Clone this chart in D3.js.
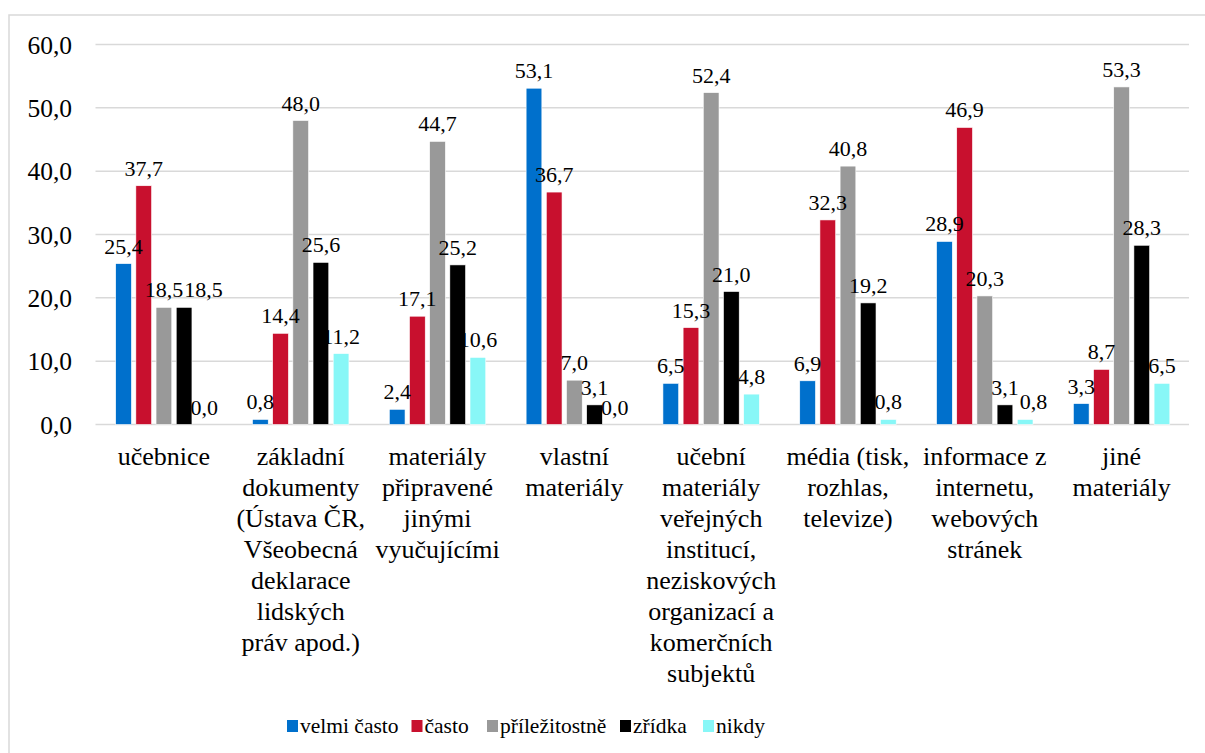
<!DOCTYPE html>
<html><head><meta charset="utf-8">
<script src="https://cdn.jsdelivr.net/npm/d3@7"></script>
<style>body{margin:0;background:#fff} svg text, svg tspan{font-family:"Liberation Serif" !important}</style>
</head><body>
<svg id="c" width="1205" height="753"></svg>
<script>
const categories = [
  ["učebnice"],
  ["základní","dokumenty","(Ústava ČR,","Všeobecná","deklarace","lidských","práv apod.)"],
  ["materiály","připravené","jinými","vyučujícími"],
  ["vlastní","materiály"],
  ["učební","materiály","veřejných","institucí,","neziskových","organizací a","komerčních","subjektů"],
  ["média (tisk,","rozhlas,","televize)"],
  ["informace z","internetu,","webových","stránek"],
  ["jiné","materiály"]
];
const seriesNames = ["velmi často","často","příležitostně","zřídka","nikdy"];
const seriesColors = ["#0070CC","#C8102E","#999999","#000000","#88F7F7"];
const velmiCasto   = [25.4, 0.8, 2.4, 53.1, 6.5, 6.9, 28.9, 3.3];
const casto        = [37.7, 14.4, 17.1, 36.7, 15.3, 32.3, 46.9, 8.7];
const prilezitostne= [18.5, 48.0, 44.7, 7.0, 52.4, 40.8, 20.3, 53.3];
const zridka       = [18.5, 25.6, 25.2, 3.1, 21.0, 19.2, 3.1, 28.3];
const nikdy        = [0.0, 11.2, 10.6, 0.0, 4.8, 0.8, 0.8, 6.5];
const yTicks = [0,10,20,30,40,50,60];

const series = [velmiCasto, casto, prilezitostne, zridka, nikdy];
const fmt = v => v.toFixed(1).replace(".", ",");
const FF = "Liberation Serif";
const setFont = (sel, size) => sel.attr("font-family",FF).style("font-family",FF,"important").attr("font-size",size);

const svg = d3.select("#c");
svg.append("rect").attr("x",9).attr("y",15).attr("width",1210).attr("height",760)
  .attr("fill","#fff").attr("stroke","#d9d9d9").attr("stroke-width",1.5);

const x0 = d3.scaleBand().domain(d3.range(categories.length)).range([95.5,1190]).paddingInner(0).paddingOuter(0);
const x1 = d3.scaleBand().domain(d3.range(series.length)).range([0,x0.bandwidth()]).paddingInner(0.22).paddingOuter(1.0);
const y = d3.scaleLinear().domain([0,60]).range([424.5,44.5]);

svg.append("g").selectAll("line").data(yTicks).join("line")
  .attr("x1",95.5).attr("x2",1189).attr("y1",d=>y(d)).attr("y2",d=>y(d))
  .attr("stroke","#d9d9d9").attr("stroke-width",1.5);

setFont(svg.append("g").selectAll("text").data(yTicks).join("text")
  .attr("x",72).attr("y",d=>y(d)).attr("dy","0.36em").attr("text-anchor","end"), 25.5)
  .text(d=>fmt(d));

const g = svg.append("g");
series.forEach((vals,si)=>{
  g.append("g").selectAll("rect").data(vals).join("rect")
    .attr("x",(d,i)=>x0(i)+x1(si)).attr("width",x1.bandwidth())
    .attr("y",d=>y(d)).attr("height",d=>y(0)-y(d))
    .attr("fill",seriesColors[si]).attr("stroke","#fff").attr("stroke-width",0.6);
});

// data labels with simple overlap avoidance
const lab = svg.append("g");
categories.forEach((c,i)=>{
  let prev = null;
  series.forEach((vals,si)=>{
    const v = vals[i];
    let cx = x0(i)+x1(si)+x1.bandwidth()/2;
    const by = y(v)-10;
    const t = setFont(lab.append("text").attr("text-anchor","middle"), 22)
      .attr("y",by).attr("x",cx).text(fmt(v));
    const w = t.node().getComputedTextLength();
    if (prev && Math.abs(prev.y-by) < 18) {
      const minCx = prev.cx + prev.w/2 + w/2 + 1;
      if (cx < minCx) { cx = minCx; t.attr("x",cx); }
    }
    prev = {cx, y:by, w};
  });
});

const cg = svg.append("g");
categories.forEach((lines,i)=>{
  const t = setFont(cg.append("text").attr("text-anchor","middle"), 26)
    .attr("transform",`translate(${x0(i)+x0.bandwidth()/2},465)`);
  lines.forEach((l,j)=>t.append("tspan").attr("x",0).attr("y",j*31).text(l));
});

const legX = [287, 411.5, 487, 620, 703];
const lg = svg.append("g");
seriesNames.forEach((n,i)=>{
  lg.append("rect").attr("x",legX[i]).attr("y",720).attr("width",11).attr("height",12).attr("fill",seriesColors[i]);
  setFont(lg.append("text").attr("x",legX[i]+13).attr("y",733), 21.5).text(n);
});
</script>
</body></html>
